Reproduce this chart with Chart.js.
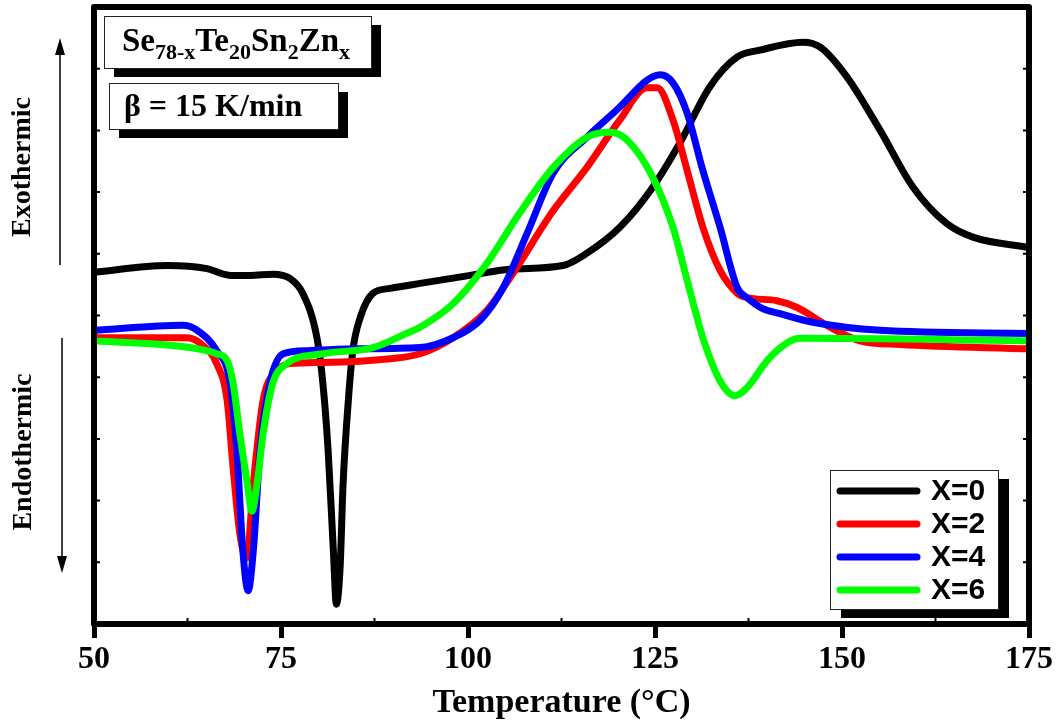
<!DOCTYPE html>
<html>
<head>
<meta charset="utf-8">
<script src="https://cdn.jsdelivr.net/npm/chart.js@4.4.0/dist/chart.umd.min.js"></script>
<style>
  body { margin: 0; background: #fff; }
  #wrap { width: 1062px; height: 728px; }
</style>
</head>
<body>
<div id="wrap"><canvas id="dscChart"></canvas></div>
<script>
// DSC traces at 15 K/min, heat flow in arbitrary units
const tempX0 = [50, 59.8, 65.1, 68.2, 70.9, 73.9, 76.2, 77.9, 79.8, 80.6, 81.3, 82.0, 82.4, 82.9, 83.3, 84.0, 84.6, 85.6, 87.3, 89.6, 93.6, 100.3, 105.6, 112.7, 115.9, 120.3, 124.7, 128.3, 132.3, 136.0, 139.0, 144.8, 147.1, 150.7, 155.1, 159.5, 164.0, 167.5, 175];
const heatX0 = [57.0, 58.1, 57.6, 56.5, 56.5, 56.7, 56.0, 53.6, 46.4, 39.0, 28.1, 11.9, 3.2, 9.1, 22.7, 36.2, 44.3, 49.7, 53.6, 54.4, 55.2, 56.5, 57.5, 58.1, 60.1, 64.3, 70.8, 77.9, 87.0, 91.9, 93.0, 94.3, 93.5, 88.6, 80.0, 70.8, 64.9, 62.7, 61.0];

const tempX2 = [50, 62.4, 64.2, 66.4, 67.8, 68.6, 69.5, 70.4, 71.3, 72.6, 74.5, 76.2, 80.6, 89.6, 93.6, 98.0, 102.5, 106.0, 111.4, 115.9, 120.3, 123.9, 125.3, 127.4, 129.3, 131.4, 133.7, 136.0, 137.3, 141.3, 144.0, 148.4, 152.4, 157.8, 175];
const heatX2 = [46.4, 46.4, 45.5, 42.2, 36.2, 25.3, 14.6, 10.7, 22.7, 36.2, 41.1, 42.2, 42.4, 43.0, 43.8, 46.4, 50.8, 56.8, 67.0, 74.0, 81.7, 86.9, 86.9, 81.7, 73.5, 64.3, 57.3, 53.6, 52.9, 52.4, 51.3, 48.1, 45.9, 45.3, 44.6];

const tempX4 = [50, 61.9, 63.8, 66.4, 68.2, 69.1, 69.9, 70.6, 71.3, 72.2, 73.5, 75.3, 78.5, 85.2, 93.6, 98.0, 101.6, 104.7, 107.9, 111.4, 115.9, 120.3, 123.9, 125.7, 127.4, 129.3, 131.4, 133.7, 136.0, 137.3, 139.4, 141.7, 146.1, 155.1, 175];
const heatX4 = [47.6, 48.4, 47.6, 44.3, 39.0, 28.1, 11.9, 5.4, 11.9, 28.1, 39.0, 43.8, 44.3, 44.6, 44.8, 46.4, 49.2, 54.5, 63.3, 73.1, 78.9, 83.8, 88.1, 89.0, 87.7, 82.8, 73.5, 64.3, 54.5, 52.9, 51.1, 50.3, 48.9, 47.6, 47.1];

const tempX6 = [50, 62.8, 66.4, 67.8, 68.6, 69.5, 70.5, 71.1, 71.8, 72.6, 73.9, 75.8, 80.6, 87.3, 91.8, 93.6, 98.0, 102.5, 106.9, 111.4, 115.9, 119.0, 121.3, 124.7, 127.4, 129.3, 131.4, 133.7, 135.7, 137.3, 140.0, 142.6, 144.4, 175];
const heatX6 = [45.9, 44.8, 43.8, 42.7, 39.0, 30.8, 22.7, 18.3, 22.7, 30.8, 39.0, 42.2, 43.8, 44.8, 47.1, 48.1, 51.9, 58.4, 66.6, 74.0, 78.9, 79.7, 78.4, 72.4, 64.3, 55.7, 46.4, 39.4, 37.0, 38.3, 42.7, 45.5, 46.3, 45.9];

const seriesLabels = ["X=0", "X=2", "X=4", "X=6"];
const seriesColors = ["#000000", "#ff0000", "#0000ff", "#00ff00"];
const xTicks = [50, 75, 100, 125, 150, 175];

const serif = "'Liberation Serif', 'Times New Roman', serif";
const sans = "'Liberation Sans', Arial, sans-serif";

function toPoints(xs, ys) {
  return xs.map((t, i) => ({ x: t, y: ys[i] }));
}

const allTemps = [tempX0, tempX2, tempX4, tempX6];
const allHeat = [heatX0, heatX2, heatX4, heatX6];

const datasets = seriesLabels.map((label, i) => ({
  label: label,
  data: toPoints(allTemps[i], allHeat[i]),
  borderColor: seriesColors[i],
  borderWidth: 7,
  pointRadius: 0,
  fill: false,
  cubicInterpolationMode: 'monotone',
  borderCapStyle: 'round',
  borderJoinStyle: 'round',
  order: 4 - i
}));

// thick frame, small inner ticks, text boxes, legend and side labels
const decorations = {
  id: 'decorations',
  afterDatasetsDraw(chart) {
    const ctx = chart.ctx;
    const a = chart.chartArea;
    const xs = chart.scales.x;
    const ys = chart.scales.y;
    ctx.save();
    ctx.strokeStyle = '#000';
    ctx.lineWidth = 6;
    ctx.lineJoin = 'round';
    ctx.strokeRect(a.left, a.top, a.right - a.left, a.bottom - a.top);

    ctx.lineWidth = 2;
    ctx.beginPath();
    for (let i = 0; i < xTicks.length - 1; i++) {
      const px = xs.getPixelForValue((xTicks[i] + xTicks[i + 1]) / 2);
      ctx.moveTo(px, a.bottom);
      ctx.lineTo(px, a.bottom - 6);
    }
    ys.ticks.forEach(t => {
      if (t.value <= ys.min || t.value >= ys.max) return;
      const py = ys.getPixelForValue(t.value);
      ctx.moveTo(a.left, py);
      ctx.lineTo(a.left + 6, py);
      ctx.moveTo(a.right, py);
      ctx.lineTo(a.right - 6, py);
    });
    ctx.stroke();
    ctx.restore();
  },
  afterDraw(chart) {
    const ctx = chart.ctx;
    const a = chart.chartArea;
    ctx.save();

    function shadowBox(x, y, w, h, dx, dy) {
      ctx.fillStyle = '#000';
      ctx.fillRect(x + dx, y + dy, w, h);
      ctx.fillStyle = '#fff';
      ctx.fillRect(x, y, w, h);
      ctx.strokeStyle = '#222';
      ctx.lineWidth = 1;
      ctx.strokeRect(x + 0.5, y + 0.5, w, h);
    }

    // composition box
    shadowBox(a.left + 10, a.top + 9, 267, 52, 10, 9);
    const parts = [["Se", false], ["78-x", true], ["Te", false], ["20", true], ["Sn", false], ["2", true], ["Zn", false], ["x", true]];
    let tx = a.left + 28;
    const base = a.top + 44;
    ctx.fillStyle = '#000';
    ctx.textBaseline = 'alphabetic';
    ctx.textAlign = 'left';
    parts.forEach(([s, sub]) => {
      ctx.font = sub ? `bold 22px ${serif}` : `bold 33px ${serif}`;
      ctx.fillText(s, tx, sub ? base + 8 : base);
      tx += ctx.measureText(s).width;
    });

    // heating rate box
    shadowBox(a.left + 15, a.top + 76, 229, 46, 10, 9);
    ctx.fillStyle = '#000';
    ctx.font = `bold 32px ${serif}`;
    ctx.fillText("\u03B2 = 15 K/min", a.left + 30, a.top + 109);

    // legend
    const lx = a.right - 199, ly = a.bottom - 154;
    shadowBox(lx, ly, 168, 139, 11, 9);
    chart.data.datasets.forEach((ds, i) => {
      const rowY = ly + 21 + i * 33;
      ctx.strokeStyle = ds.borderColor;
      ctx.lineWidth = 7;
      ctx.lineCap = 'round';
      ctx.beginPath();
      ctx.moveTo(lx + 10, rowY);
      ctx.lineTo(lx + 87, rowY);
      ctx.stroke();
      ctx.fillStyle = '#000';
      ctx.font = `bold 30px ${sans}`;
      ctx.textBaseline = 'middle';
      ctx.fillText(ds.label, lx + 101, rowY + 1);
    });

    // exothermic / endothermic hints on the left
    ctx.fillStyle = '#000';
    ctx.font = `bold 28px ${serif}`;
    ctx.textAlign = 'center';
    ctx.textBaseline = 'middle';
    ctx.save();
    ctx.translate(23, 167);
    ctx.rotate(-Math.PI / 2);
    ctx.fillText("Exothermic", 0, 0);
    ctx.restore();
    ctx.save();
    ctx.translate(24, 452);
    ctx.rotate(-Math.PI / 2);
    ctx.fillText("Endothermic", 0, 0);
    ctx.restore();

    ctx.strokeStyle = '#000';
    ctx.lineWidth = 1.5;
    ctx.lineCap = 'butt';
    ctx.beginPath();
    ctx.moveTo(60, 265); ctx.lineTo(60, 50);
    ctx.moveTo(62, 338); ctx.lineTo(62, 560);
    ctx.stroke();
    ctx.beginPath();
    ctx.moveTo(60, 38); ctx.lineTo(55, 55); ctx.lineTo(65, 55); ctx.closePath();
    ctx.moveTo(62, 573); ctx.lineTo(57, 556); ctx.lineTo(67, 556); ctx.closePath();
    ctx.fill();
    ctx.restore();
  }
};

new Chart(document.getElementById('dscChart'), {
  type: 'line',
  data: { datasets: datasets },
  options: {
    responsive: true,
    maintainAspectRatio: false,
    animation: false,
    events: [],
    layout: { padding: { left: 94, right: 33, top: 7, bottom: 0 } },
    plugins: { legend: { display: false }, tooltip: { enabled: false } },
    scales: {
      x: {
        type: 'linear',
        min: 50,
        max: 175,
        afterBuildTicks: scale => { scale.ticks = xTicks.map(v => ({ value: v })); },
        afterFit: scale => { scale.height = 104; },
        border: { display: false },
        grid: { drawOnChartArea: false, drawTicks: true, tickLength: 14, tickWidth: 5, tickColor: '#000' },
        ticks: { color: '#000', padding: 3, maxRotation: 0, font: { family: serif, size: 32, weight: 'bold' } },
        title: {
          display: true,
          text: 'Temperature (\u00B0C)',
          color: '#000',
          padding: { top: 0, bottom: 4 },
          font: { family: serif, size: 34, weight: 'bold' }
        }
      },
      y: {
        type: 'linear',
        display: false,
        min: 0,
        max: 100,
        ticks: { stepSize: 10 }
      }
    }
  },
  plugins: [decorations]
});
</script>
</body>
</html>
